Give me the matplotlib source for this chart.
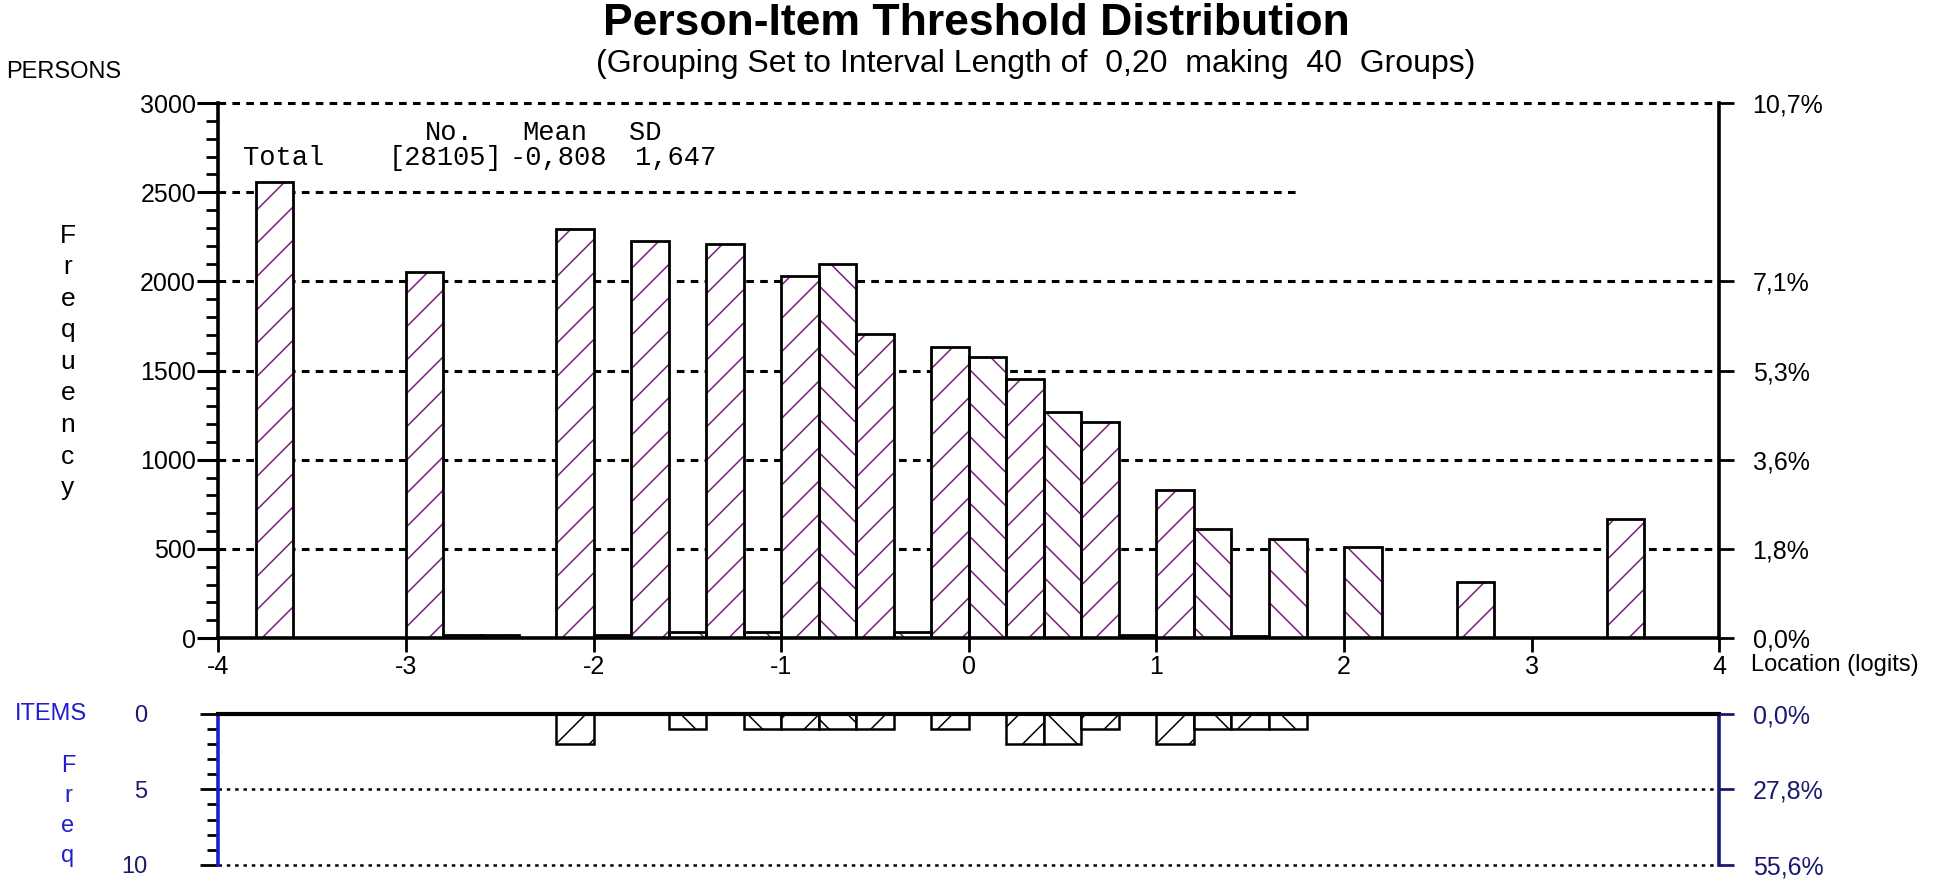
import numpy as np
import matplotlib
matplotlib.use("Agg")
import matplotlib.pyplot as plt
from matplotlib.ticker import MultipleLocator

plt.rcParams["font.family"] = ["Liberation Sans", "DejaVu Sans"]
plt.rcParams["lines.scale_dashes"] = False
plt.rcParams["hatch.linewidth"] = 1.1

# --- data (40 groups of width 0.2 from -4 to 4) ---
bin_width = 0.2
bin_left = np.round(np.arange(-4.0, 4.0, bin_width), 1)

person_freq = [0, 2560, 0, 0, 0, 2055, 18, 18, 0, 2295,
               15, 2225, 35, 2208, 32, 2028, 2100, 1705, 33, 1635,
               1578, 1455, 1267, 1212, 15, 833, 610, 10, 556, 0,
               510, 0, 0, 315, 0, 0, 0, 667, 0, 0]

item_freq = [0, 0, 0, 0, 0, 0, 0, 0, 0, 2,
             0, 0, 1, 0, 1, 1, 1, 1, 0, 1,
             0, 2, 2, 1, 0, 2, 1, 1, 1, 0,
             0, 0, 0, 0, 0, 0, 0, 0, 0, 0]

person_yticks = [0, 500, 1000, 1500, 2000, 2500, 3000]
person_pct_ticks = [0, 500, 1000, 1500, 2000, 3000]
person_pct_labels = ["0,0%", "1,8%", "3,6%", "5,3%", "7,1%", "10,7%"]
item_yticks = [0, 5, 10]
item_pct_labels = ["0,0%", "27,8%", "55,6%"]
x_ticks = [-4, -3, -2, -1, 0, 1, 2, 3, 4]

stats_header = ["No.", "Mean", "SD"]
stats_values = ["Total", "[28105]", "-0,808", "1,647"]

NAVY = "#1a1a70"
BLUE = "#1e1ed0"
HATCH_COL = "#7a207a"

fig = plt.figure(figsize=(19.46, 8.85), dpi=100)

# --- persons panel ---
ax = fig.add_axes([0.1122, 0.279, 0.7713, 0.6045])
ax.set_xlim(-4, 4)
ax.set_ylim(0, 3000)

# hatch direction alternates with the group index
hatches = ["\\" if k % 2 == 0 else "/" for k in range(len(bin_left))]

bars = ax.bar(bin_left, person_freq, width=bin_width, align="edge",
              color="white", edgecolor=HATCH_COL, linewidth=0, zorder=2)
for b, h in zip(bars, hatches):
    b.set_hatch(h)
ax.bar(bin_left, person_freq, width=bin_width, align="edge",
       fill=False, edgecolor="black", linewidth=2.0, zorder=3)

for y in [500, 1000, 1500, 2000, 3000]:
    ax.hlines(y, -4, 4, colors="black", linewidth=2.2,
              linestyles=(0, (5.5, 4.5)), zorder=1, clip_on=False)
ax.hlines(2500, -4, 1.75, colors="black", linewidth=2.2,
          linestyles=(0, (5.5, 4.5)), zorder=1)

ax.spines["top"].set_visible(False)
for s in ["left", "right", "bottom"]:
    ax.spines[s].set_linewidth(2.6)
    ax.spines[s].set_zorder(4)

ax.set_yticks(person_yticks)
ax.set_yticklabels([str(v) for v in person_yticks], fontsize=18)
ax.yaxis.set_minor_locator(MultipleLocator(100))
ax.tick_params(axis="y", which="major", direction="out", length=15, width=2.2, pad=1)
ax.tick_params(axis="y", which="minor", direction="out", length=9, width=2.0)
ax.set_xticks(x_ticks)
ax.set_xticklabels([str(v) for v in x_ticks], fontsize=18)
ax.tick_params(axis="x", direction="out", length=10, width=2.0, pad=2)

ax_r = ax.twinx()
ax_r.set_ylim(0, 3000)
ax_r.set_yticks(person_pct_ticks)
ax_r.set_yticklabels(person_pct_labels, fontsize=18)
ax_r.tick_params(axis="y", direction="out", length=11, width=2.0, pad=13)
for s in ax_r.spines.values():
    s.set_visible(False)

# summary statistics
stats_x_header = [-2.90, -2.38, -1.81]
stats_x_values = [-3.87, -3.09, -2.45, -1.78]
for x, s in zip(stats_x_header, stats_header):
    ax.text(x, 2835, s, family="Liberation Mono", fontsize=19.5, va="center", ha="left")
for x, s in zip(stats_x_values, stats_values):
    ax.text(x, 2690, s, family="Liberation Mono", fontsize=19.5, va="center", ha="left")

# --- items panel ---
axi = fig.add_axes([0.1122, 0.0226, 0.7713, 0.171])
axi.set_xlim(-4, 4)
axi.set_ylim(10, 0)

ibars = axi.bar(bin_left, item_freq, width=bin_width, align="edge",
                color="white", edgecolor="black", linewidth=1.8, zorder=2)
for b, h in zip(ibars, hatches):
    b.set_hatch(h)

for y in [5, 10]:
    axi.hlines(y, -4, 4, colors="black", linewidth=1.8,
               linestyles=(0, (2.5, 3.5)), zorder=1, clip_on=False)

axi.spines["bottom"].set_visible(False)
axi.spines["top"].set_linewidth(3.0)
axi.spines["left"].set_color(BLUE)
axi.spines["left"].set_linewidth(2.6)
axi.spines["right"].set_color(NAVY)
axi.spines["right"].set_linewidth(2.6)
axi.set_xticks([])
axi.set_yticks(item_yticks)
axi.set_yticklabels([str(v) for v in item_yticks], fontsize=17, color=NAVY)
axi.yaxis.set_minor_locator(MultipleLocator(1))
axi.tick_params(axis="y", which="major", direction="out", length=13, width=2.0, pad=38)
axi.tick_params(axis="y", which="minor", direction="out", length=8, width=2.0)

axi_r = axi.twinx()
axi_r.set_ylim(10, 0)
axi_r.set_yticks(item_yticks)
axi_r.set_yticklabels(item_pct_labels, fontsize=18, color=NAVY)
axi_r.tick_params(axis="y", direction="out", length=11, width=2.0, pad=13, color=NAVY)
for s in axi_r.spines.values():
    s.set_visible(False)

# --- titles and side labels ---
fig.text(0.5015, 0.973, "Person-Item Threshold Distribution",
         fontsize=32, fontweight="bold", ha="center", va="center")
fig.text(0.532, 0.928,
         "(Grouping Set to Interval Length of  0,20  making  40  Groups)",
         fontsize=23, ha="center", va="center")
fig.text(0.003, 1 - 72 / 885, "PERSONS", fontsize=17, ha="left", va="center")
for i, ch in enumerate("Frequency"):
    fig.text(68 / 1946, 1 - (236 + i * 31.5) / 885, ch, fontsize=19,
             ha="center", va="center")
fig.text(0.8998, 1 - 665 / 885, "Location (logits)", fontsize=17,
         ha="left", va="center")

fig.text(15 / 1946, 1 - 714 / 885, "ITEMS", fontsize=17, color=BLUE,
         ha="left", va="center")
for i, ch in enumerate("Freq"):
    fig.text(68 / 1946, 1 - (766 + i * 30) / 885, ch, fontsize=17, color=BLUE,
             ha="center", va="center")

fig.savefig("out.png", dpi=100)
